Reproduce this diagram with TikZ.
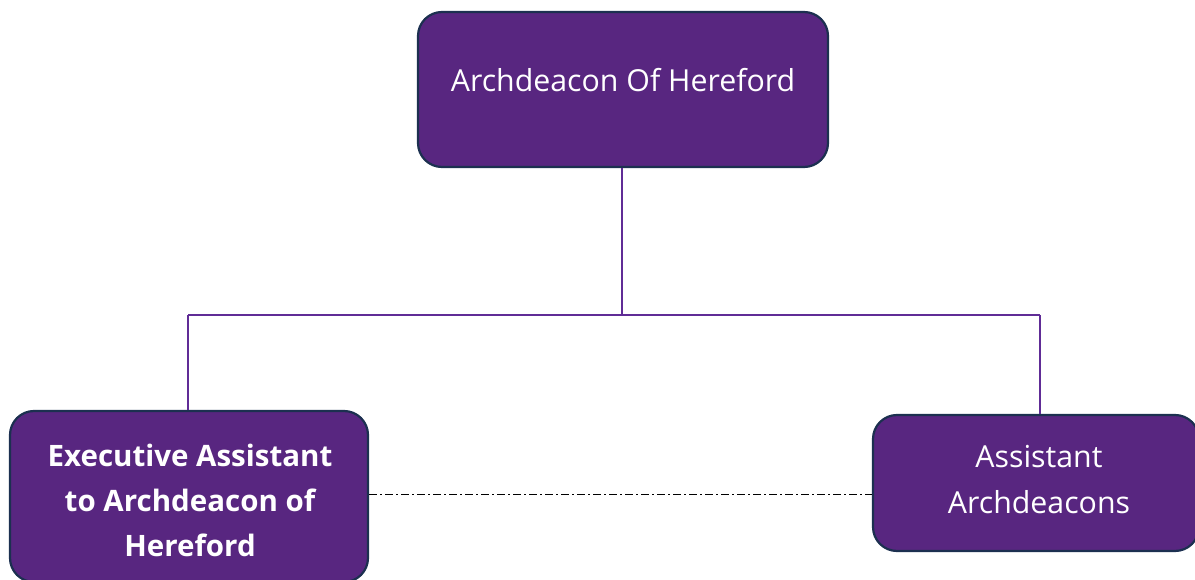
\documentclass[tikz,border=0pt]{standalone}
\usepackage{fontspec}
\setmainfont{Open Sans}
\definecolor{boxfill}{RGB}{88,38,128}
\definecolor{boxedge}{RGB}{28,48,80}
\definecolor{linkpurple}{RGB}{96,44,150}
\tikzset{
  orgbox/.style={draw=boxedge, line width=2.2pt, fill=boxfill, rounded corners=24pt, inner sep=0pt},
  boxtext/.style={text=white, align=center, inner sep=0pt},
  link/.style={draw=linkpurple, line width=1.3pt},
  assist/.style={draw=black, line width=0.9pt, dash pattern=on 8pt off 3pt on 2pt off 3pt}
}
\begin{document}
\begin{tikzpicture}[x=1pt,y=-1pt]
\useasboundingbox (0,0) rectangle (1195,580);
\fill[white] (0,0) rectangle (1195,580);
% boxes
\node[orgbox, minimum width=410pt, minimum height=155pt] (top) at (623,89.5) {};
\node[boxtext, font=\fontsize{30.3}{36}\selectfont] (toptext) at (623,80) {Archdeacon Of Hereford};
\node[orgbox, minimum width=358pt, minimum height=171pt] (left) at (189,496.5) {};
\node[boxtext, font=\fontsize{29.5}{45}\bfseries] (lefttext) at (190,500) {Executive Assistant\\to Archdeacon of\\Hereford};
\node[orgbox, minimum width=326pt, minimum height=136pt] (right) at (1036,483) {};
\node[boxtext, font=\fontsize{30.3}{46}\selectfont] (righttext) at (1039,480) {Assistant\\Archdeacons};
% connectors
\coordinate (bus) at (622,315);
\coordinate (busL) at (188,315);
\coordinate (busR) at (1040,315);
\draw[link] (top.south -| bus) -- (bus);
\draw[link] (busL) -- (busR);
\draw[link] (busL) -- (left.north -| busL);
\draw[link] (busR) -- (right.north -| busR);
\draw[assist] (left.east |- 0,494) -- (right.west |- 0,494);
\end{tikzpicture}
\end{document}
